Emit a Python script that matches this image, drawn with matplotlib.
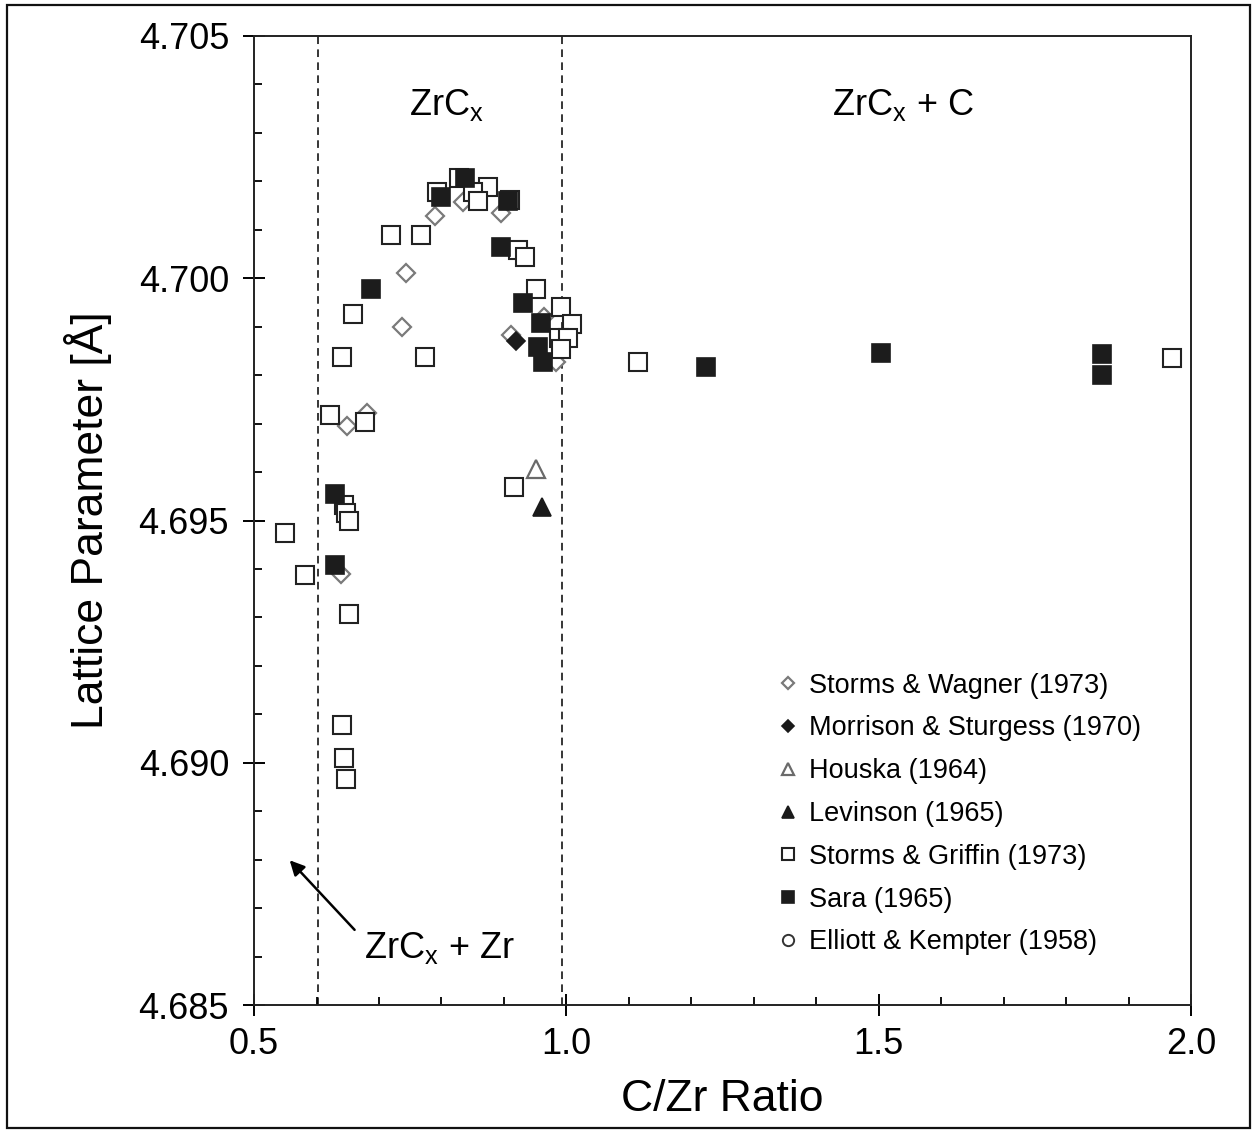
import matplotlib
matplotlib.use("Agg")
import matplotlib.pyplot as plt
from matplotlib.patches import Rectangle
from matplotlib.ticker import MultipleLocator, FormatStrFormatter

plt.rcParams['font.family'] = ['Liberation Sans', 'DejaVu Sans']
plt.rcParams['xtick.direction'] = 'in'
plt.rcParams['ytick.direction'] = 'in'

# C/Zr ratio and lattice parameter (Angstrom) for each data set
wagner_x = [0.790, 0.743, 0.737, 0.834, 0.895, 0.983, 0.964, 0.912, 0.649, 0.639, 0.681]
wagner_y = [4.70129, 4.70011, 4.69899, 4.70158, 4.70134, 4.69827, 4.69921, 4.69883, 4.69696, 4.69390, 4.69721]

morrison_x = [0.919]
morrison_y = [4.69871]

houska_x = [0.951]
houska_y = [4.69606]

levinson_x = [0.961]
levinson_y = [4.69527]

griffin_x = [0.549, 0.581, 0.621, 0.677, 0.644, 0.648, 0.652, 0.652, 0.641, 0.644, 0.648,
             0.916, 0.641, 0.658, 0.720, 0.768, 0.774, 0.793, 0.828, 0.875, 0.850, 0.859,
             0.909, 0.923, 0.934, 0.952, 0.992, 1.009, 0.988, 1.002, 0.991, 1.115, 1.970]
griffin_y = [4.69474, 4.69388, 4.69718, 4.69704, 4.69532, 4.69515, 4.69498, 4.69308, 4.69078, 4.69009, 4.68966,
             4.69570, 4.69837, 4.69926, 4.70089, 4.70089, 4.69837, 4.70179, 4.70206, 4.70189, 4.70177, 4.70160,
             4.70162, 4.70058, 4.70044, 4.69977, 4.69940, 4.69906, 4.69877, 4.69876, 4.69855, 4.69827, 4.69836]

sara_x = [0.688, 0.800, 0.837, 0.906, 0.896, 0.930, 0.959, 0.955, 0.962, 0.630, 0.629,
          1.223, 1.503, 1.857, 1.857]
sara_y = [4.69977, 4.70168, 4.70206, 4.70160, 4.70065, 4.69948, 4.69907, 4.69859, 4.69828, 4.69554, 4.69408,
          4.69817, 4.69845, 4.69844, 4.69800]

elliott_x = []
elliott_y = []

phase_bounds = [0.603, 0.993]

fig = plt.figure(figsize=(12.57, 11.35), dpi=100)
ax = fig.add_axes([0.2021, 0.1145, 0.7454, 0.8538])

# outer frame round the whole picture
fig.patches.append(Rectangle((0.0056, 0.0062), 0.989, 0.9894, transform=fig.transFigure,
                             fill=False, edgecolor='#111111', linewidth=1.6))

for b in phase_bounds:
    ax.axvline(b, color='black', linestyle=(0, (5, 3.5)), linewidth=1.1, zorder=1)

ms = 12.5
ax.plot(wagner_x, wagner_y, 'D', ms=9.5, mfc='white', mec='#7a7a7a', mew=1.6,
        ls='none', label='Storms & Wagner (1973)', zorder=2)
ax.plot(morrison_x, morrison_y, 'D', ms=9.5, mfc='#1a1a1a', mec='#1a1a1a', mew=1.2,
        ls='none', label='Morrison & Sturgess (1970)', zorder=2)
ax.plot(houska_x, houska_y, '^', ms=13, mfc='white', mec='#6a6a6a', mew=1.6,
        ls='none', label='Houska (1964)', zorder=2)
ax.plot(levinson_x, levinson_y, '^', ms=13, mfc='#1a1a1a', mec='#1a1a1a', mew=1.2,
        ls='none', label='Levinson (1965)', zorder=2)
ax.plot(griffin_x, griffin_y, 's', ms=ms, mfc='white', mec='#222222', mew=1.5,
        ls='none', label='Storms & Griffin (1973)', zorder=3)
ax.plot(sara_x, sara_y, 's', ms=ms, mfc='#1c1c1c', mec='#1c1c1c', mew=1.2,
        ls='none', label='Sara (1965)', zorder=4)
ax.plot(elliott_x, elliott_y, 'o', ms=ms, mfc='white', mec='#333333', mew=1.4,
        ls='none', label='Elliott & Kempter (1958)', zorder=2)

ax.set_xlim(0.5, 2.0)
ax.set_ylim(4.685, 4.705)
ax.xaxis.set_major_locator(MultipleLocator(0.5))
ax.xaxis.set_minor_locator(MultipleLocator(0.1))
ax.yaxis.set_major_locator(MultipleLocator(0.005))
ax.yaxis.set_minor_locator(MultipleLocator(0.001))
ax.xaxis.set_major_formatter(FormatStrFormatter('%.1f'))
ax.yaxis.set_major_formatter(FormatStrFormatter('%.3f'))

for s in ax.spines.values():
    s.set_linewidth(1.4)
    s.set_color('#222222')
ax.tick_params(which='minor', direction='in', length=6, width=1.3)
ax.tick_params(which='major', direction='inout', length=16, width=1.4, labelsize=26)
ax.tick_params(axis='y', which='major', pad=10)
ax.tick_params(axis='x', which='major', pad=8)

ax.set_xlabel('C/Zr Ratio', fontsize=32, labelpad=12)
ax.set_ylabel('Lattice Parameter [Å]', fontsize=32, labelpad=19)

ax.text(0.808, 4.70358, r'ZrC$_\mathregular{x}$', fontsize=26, ha='center', va='center')
ax.text(1.539, 4.70358, r'ZrC$_\mathregular{x}$ + C', fontsize=26, ha='center', va='center')
ax.text(0.797, 4.68618, r'ZrC$_\mathregular{x}$ + Zr', fontsize=26, ha='center', va='center')
ax.annotate('', xy=(0.554, 4.68803), xytext=(0.664, 4.68651),
            arrowprops=dict(arrowstyle='-|>', color='black', lw=1.8, mutation_scale=22))

leg = ax.legend(loc='upper left', bbox_to_anchor=(0.545, 0.357), frameon=False,
                fontsize=19.5, markerscale=0.65, handlelength=0.7, handletextpad=0.45,
                labelspacing=0.62, borderpad=0)

fig.savefig('out.png', dpi=100)
